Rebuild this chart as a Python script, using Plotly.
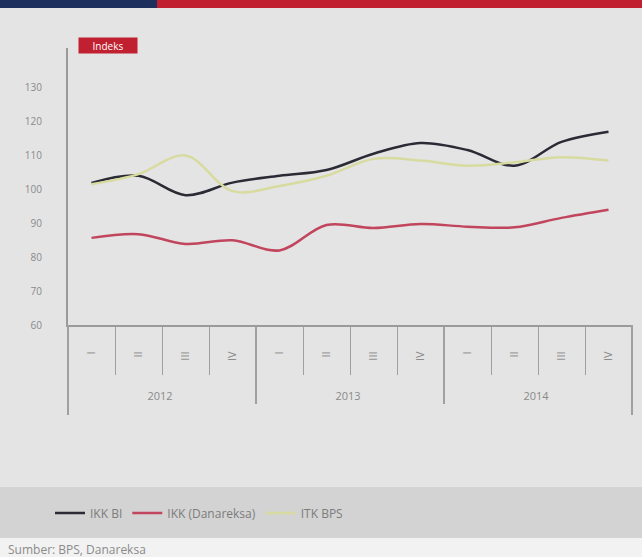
import plotly.graph_objects as go

# Quarterly consumer confidence indices
years = ["2012"] * 4 + ["2013"] * 4 + ["2014"] * 4
quarters = ["I", "II", "III", "IV"] * 3

ikk_bi = [101.9, 104.0, 98.3, 102.0, 104.0, 105.7, 110.5, 113.7, 111.6, 107.0, 114.0, 117.0]
ikk_danareksa = [85.7, 86.8, 83.9, 85.0, 82.0, 89.5, 88.6, 89.8, 89.0, 88.8, 91.6, 94.0]
itk_bps = [101.5, 104.5, 110.0, 99.5, 101.0, 104.0, 109.0, 108.5, 107.0, 108.0, 109.5, 108.5]

y_ticks = [60, 70, 80, 90, 100, 110, 120, 130]

W, H = 642, 557
L, R, T, B = 68, 10, 48, 232
PW, PH = W - L - R, H - T - B


def px(p):
    """Pixel x -> paper x."""
    return (p - L) / PW


def py(p):
    """Pixel y (from top) -> paper y."""
    return (H - B - p) / PH


# quarter labels are padded with no-break spaces so the rotated numerals sit
# in the middle of the tick band and the year row drops below it
NB = "\u00a0"
quarter_labels = [NB * 6 + q + NB * 7 for q in quarters]
x = [years, quarter_labels]

fig = go.Figure()
fig.add_trace(go.Scatter(x=x, y=ikk_bi, name="IKK BI", mode="lines",
                         line=dict(color="#2b2b36", width=2.5, shape="spline")))
fig.add_trace(go.Scatter(x=x, y=ikk_danareksa, name="IKK (Danareksa)", mode="lines",
                         line=dict(color="#c2455e", width=2.5, shape="spline")))
fig.add_trace(go.Scatter(x=x, y=itk_bps, name="ITK BPS", mode="lines",
                         line=dict(color="#d8dba0", width=2.5, shape="spline")))

fig.update_layout(
    width=W, height=H,
    margin=dict(l=L, r=R, t=T, b=B),
    paper_bgcolor="#e4e4e4", plot_bgcolor="#e4e4e4",
    font=dict(family="Open Sans", color="#8a8a8a", size=10),
    showlegend=True,
    legend=dict(orientation="h", x=px(50), xanchor="left", y=py(513),
                yanchor="middle", font=dict(size=12, color="#7c7c7c"),
                bgcolor="rgba(0,0,0,0)", itemwidth=30),
    shapes=[
        # top banner
        dict(type="rect", xref="paper", yref="paper", x0=px(0), x1=px(157),
             y0=py(8), y1=py(0), fillcolor="#1d2f5c", line_width=0, layer="below"),
        dict(type="rect", xref="paper", yref="paper", x0=px(157), x1=px(W),
             y0=py(8), y1=py(0), fillcolor="#c0202f", line_width=0, layer="below"),
        # legend band
        dict(type="rect", xref="paper", yref="paper", x0=px(0), x1=px(W),
             y0=py(538), y1=py(487), fillcolor="#d3d3d3", line_width=0, layer="below"),
        # source strip
        dict(type="rect", xref="paper", yref="paper", x0=px(0), x1=px(W),
             y0=py(H), y1=py(538), fillcolor="#f2f2f2", line_width=0, layer="below"),
        # frame lines continuing the axes into the label area
        dict(type="line", xref="paper", yref="paper", x0=0, x1=0, y0=py(415), y1=0,
             line=dict(color="#a0a0a0", width=2)),
        dict(type="line", xref="paper", yref="paper", x0=1, x1=1, y0=py(415), y1=0,
             line=dict(color="#a0a0a0", width=2)),
    ],
    annotations=[
        dict(text="Indeks", xref="paper", yref="paper", x=px(78), y=py(45),
             xanchor="left", yanchor="middle", showarrow=False, width=56, height=13,
             align="center", font=dict(size=10, color="white"), bgcolor="#c0202f",
             borderpad=1),
        dict(text="Sumber: BPS, Danareksa", xref="paper", yref="paper", x=px(6),
             y=py(549), xanchor="left", yanchor="middle", showarrow=False,
             font=dict(size=12, color="#8a8a8a")),
    ],
)

fig.update_xaxes(
    type="multicategory", range=[-0.5, 11.5],
    showline=True, linecolor="#9a9a9a", linewidth=2,
    ticks="outside", tickson="boundaries", ticklen=48, tickcolor="#a0a0a0",
    showdividers=True, dividercolor="#a0a0a0", dividerwidth=2,
    tickangle=-90, tickfont=dict(size=11, color="#8a8a8a"),
    showgrid=False, zeroline=False,
)
fig.update_yaxes(
    range=[60, 141.7], tickvals=y_ticks, showgrid=False, zeroline=False,
    showline=True, linecolor="#9a9a9a", linewidth=2,
    ticklabelstandoff=22, tickfont=dict(size=10, color="#8a8a8a"),
)

fig.write_html("out.html")
